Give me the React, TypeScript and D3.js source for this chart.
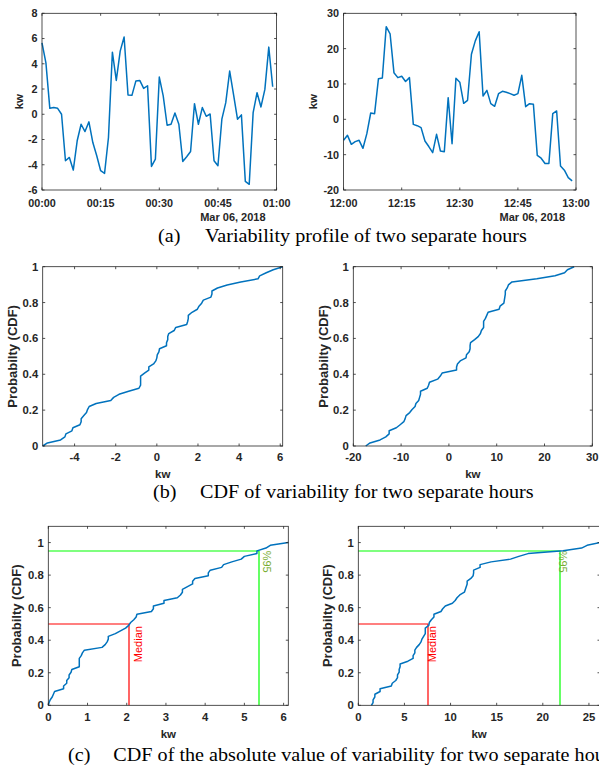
import React from 'react';
import * as d3 from 'd3';

// ---------- data ----------
const hour1Values = [
  5.66, 4.08, 0.47, 0.53, 0.47, 0.0, -3.68, -3.42, -4.42, -2.1,
  -0.79, -1.37, -0.6, -2.24, -3.29, -4.47, -4.68, -1.84, 4.92, 2.68,
  5.0, 6.12, 1.53, 1.5, 2.63, 2.68, 2.05, 2.26, -4.13, -3.55,
  2.95, 1.45, -0.87, -0.79, 0.1, -0.79, -3.74, -3.37, -2.95, 0.84,
  -0.79, 0.53, -0.16, 0.02, -3.68, -4.08, -0.39, 0.92, 3.42, 1.53,
  -0.39, -0.05, -5.32, -5.55, 0.13, 1.71, 0.58, 1.97, 5.32, 2.18,
];
const hour2Values = [
  -5.94, -4.53, -7.08, -6.32, -5.94, -8.2, -4.06, 1.79, 1.6, 11.5,
  11.7, 26.2, 24.2, 13.2, 11.8, 12.2, 10.7, 11.8, -1.42, -1.8,
  -2.36, -6.13, -7.7, -9.43, -4.25, -8.96, -9.15, 6.13, -6.9, 11.6,
  10.5, 4.53, 5.38, 18.4, 22.2, 24.8, 6.6, 8.2, 4.43, 3.68,
  7.26, 7.92, 7.64, 7.26, 6.8, 7.26, 12.45, 3.58, 4.43, 4.25,
  -10.2, -11.0, -12.5, -12.5, 1.6, 2.36, -13.2, -14.4, -16.5, -17.4,
];
const hourStarts = [new Date(2018, 2, 6, 0, 0), new Date(2018, 2, 6, 12, 0)];
const dateLabel = 'Mar 06, 2018';
const profileYTicks1 = [-6, -4, -2, 0, 2, 4, 6, 8];
const profileYTicks2 = [-20, -10, 0, 10, 20, 30];
const profileYDomain1 = [-6, 8];
const profileYDomain2 = [-20, 30];
const cdfYTicks = [0, 0.2, 0.4, 0.6, 0.8, 1];
const cdfXTicks1 = [-4, -2, 0, 2, 4, 6];
const cdfXTicks2 = [-20, -10, 0, 10, 20, 30];
const cdfXDomain2 = [-20, 30];
const absXTicks1 = [0, 1, 2, 3, 4, 5, 6];
const absXTicks2 = [0, 5, 10, 15, 20, 25];
const absYDomain = [0, 1.1];
const medianValues = [2.07, 7.55];
const p95Values = [5.37, 21.86];
const medianLabelPos = [[2.4, 0.265], [8.39, 0.265]];
const p95LabelPos = [[5.47, 0.95], [21.75, 0.95]];
const captionTags = ['(a)', '(b)', '(c)'];
const captionTexts = [
  'Variability profile of two separate hours',
  'CDF of variability for two separate hours',
  'CDF of the absolute value of variability for two separate hours',
];

// ---------- styles ----------
const AXIS = '#262626';
const BLUE = '#0072BD';
const SANS = '"Liberation Sans", Arial, Helvetica, sans-serif';
const SERIF = '"Liberation Serif", "Times New Roman", serif';
const TICK = 2.5;

type Box = { x0: number; x1: number; y0: number; y1: number };

function Frame({ box, xPos, xText, yPos, yText, xTextY, fs }: {
  box: Box; xPos: number[]; xText: string[]; yPos: number[]; yText: string[]; xTextY: number; fs: number;
}) {
  const { x0, x1, y0, y1 } = box;
  return (
    <g>
      {xPos.map((px, i) => (
        <g key={'x' + i}>
          <line x1={px} x2={px} y1={y1} y2={y1 - TICK} stroke={AXIS} strokeWidth={0.8} />
          <line x1={px} x2={px} y1={y0} y2={y0 + TICK} stroke={AXIS} strokeWidth={0.8} />
          <text x={px} y={xTextY} textAnchor="middle" fontSize={fs} fontWeight="bold" fill={AXIS} fontFamily={SANS}>{xText[i]}</text>
        </g>
      ))}
      {yPos.map((py, i) => (
        <g key={'y' + i}>
          <line x1={x0} x2={x0 + TICK} y1={py} y2={py} stroke={AXIS} strokeWidth={0.8} />
          <line x1={x1} x2={x1 - TICK} y1={py} y2={py} stroke={AXIS} strokeWidth={0.8} />
          <text x={x0 - 4.5} y={py} dy="0.36em" textAnchor="end" fontSize={fs} fontWeight="bold" fill={AXIS} fontFamily={SANS}>{yText[i]}</text>
        </g>
      ))}
      <rect x={x0} y={y0} width={x1 - x0} height={y1 - y0} fill="none" stroke={AXIS} strokeWidth={0.8} />
    </g>
  );
}

function YLabel({ x, y, text, fs }: { x: number; y: number; text: string; fs: number }) {
  return (
    <text transform={`translate(${x},${y}) rotate(-90)`} textAnchor="middle" fontSize={fs} fontWeight="bold" fill={AXIS} fontFamily={SANS}>{text}</text>
  );
}

function ProfilePanel({ box, values, start, yDomain, yTicks, ylabelX }: {
  box: Box; values: number[]; start: Date; yDomain: number[]; yTicks: number[]; ylabelX: number;
}) {
  const end = d3.timeMinute.offset(start, 60);
  const xs = d3.scaleTime().domain([start, end]).range([box.x0, box.x1]);
  const ys = d3.scaleLinear().domain(yDomain).range([box.y1, box.y0]);
  const xTickDates = d3.timeMinute.every(15)!.range(start, d3.timeMinute.offset(end, 1));
  const fmt = d3.timeFormat('%H:%M');
  const line = d3.line<number>()
    .x((_, i) => xs(d3.timeMinute.offset(start, i)))
    .y((v) => ys(v));
  return (
    <g>
      <path d={line(values) || ''} fill="none" stroke={BLUE} strokeWidth={1.5} strokeLinejoin="round" />
      <Frame box={box} xPos={xTickDates.map((d) => xs(d))} xText={xTickDates.map(fmt)}
        yPos={yTicks.map((v) => ys(v))} yText={yTicks.map(String)} xTextY={207} fs={10.8} />
      <text x={box.x1 - 11} y={220.8} textAnchor="end" fontSize={11} fontWeight="bold" fill={AXIS} fontFamily={SANS}>{dateLabel}</text>
      <YLabel x={ylabelX} y={(box.y0 + box.y1) / 2} text="kw" fs={11.5} />
    </g>
  );
}

function cdfPoints(values: number[]): [number, number][] {
  const sorted = d3.sort(values);
  const n = sorted.length;
  return sorted.map((v, i) => [v, i / (n - 1)] as [number, number]);
}

function CdfPanel({ box, values, xDomain, xTicks, yDomain, ylabelX, tickY, kwY, extra }: {
  box: Box; values: number[]; xDomain: number[]; xTicks: number[]; yDomain: number[];
  ylabelX: number; tickY: number; kwY: number;
  extra?: (xs: d3.ScaleLinear<number, number>, ys: d3.ScaleLinear<number, number>) => React.ReactNode;
}) {
  const xs = d3.scaleLinear().domain(xDomain).range([box.x0, box.x1]);
  const ys = d3.scaleLinear().domain(yDomain).range([box.y1, box.y0]);
  const line = d3.line<[number, number]>().x((d) => xs(d[0])).y((d) => ys(d[1]));
  return (
    <g>
      {extra ? extra(xs, ys) : null}
      <path d={line(cdfPoints(values)) || ''} fill="none" stroke={BLUE} strokeWidth={1.5} strokeLinejoin="round" />
      <Frame box={box} xPos={xTicks.map((v) => xs(v))} xText={xTicks.map(String)}
        yPos={cdfYTicks.map((v) => ys(v))} yText={cdfYTicks.map(String)} xTextY={tickY} fs={11.3} />
      <text x={(box.x0 + box.x1) / 2} y={kwY} textAnchor="middle" fontSize={11.5} fontWeight="bold" fill={AXIS} fontFamily={SANS}>kw</text>
      <YLabel x={ylabelX} y={(box.y0 + box.y1) / 2} text="Probabilty (CDF)" fs={13} />
    </g>
  );
}

function markers(idx: number) {
  return (xs: d3.ScaleLinear<number, number>, ys: d3.ScaleLinear<number, number>) => {
    const x0 = xs.range()[0];
    const y0 = ys.range()[0];
    const mx = Math.round(xs(medianValues[idx]));
    const px = Math.round(xs(p95Values[idx]));
    const my = Math.round(ys(0.5));
    const py = Math.round(ys(0.95));
    const ml = medianLabelPos[idx];
    const pl = p95LabelPos[idx];
    return (
      <g>
        <polyline points={`${x0},${my} ${mx},${my} ${mx},${y0}`} fill="none" stroke="#FF0000" strokeWidth={1.2} />
        <polyline points={`${x0},${py} ${px},${py} ${px},${y0}`} fill="none" stroke="#00FF00" strokeWidth={1.2} />
        <text transform={`translate(${xs(ml[0])},${ys(ml[1])}) rotate(-90)`} fontSize={11} fill="#FF0000" fontFamily={SANS}>Median</text>
        <text transform={`translate(${xs(pl[0])},${ys(pl[1])}) rotate(90)`} fontSize={11} fill="#77AC30" fontFamily={SANS}>%95</text>
      </g>
    );
  };
}

function Caption({ tag, text, tagX, textX, y }: { tag: string; text: string; tagX: number; textX: number; y: number }) {
  return (
    <g fontFamily={SERIF} fontSize={18.5} fill="#000">
      <text transform={`translate(${tagX},${y}) scale(1.09,1)`}>{tag}</text>
      <text transform={`translate(${textX},${y}) scale(1.09,1)`}>{text}</text>
    </g>
  );
}

export default function App() {
  const abs1 = hour1Values.map(Math.abs);
  const abs2 = hour2Values.map(Math.abs);
  const ext1 = d3.extent(hour1Values) as [number, number];
  return (
    <svg width={599} height={768} style={{ position: 'absolute', left: 0, top: 0, background: '#fff' }}>
      <rect x={0} y={0} width={599} height={768} fill="#fff" />
      <ProfilePanel box={{ x0: 42, x1: 276.6, y0: 13.3, y1: 190 }} values={hour1Values} start={hourStarts[0]}
        yDomain={profileYDomain1} yTicks={profileYTicks1} ylabelX={22.7} />
      <ProfilePanel box={{ x0: 343.6, x1: 576, y0: 13.3, y1: 190 }} values={hour2Values} start={hourStarts[1]}
        yDomain={profileYDomain2} yTicks={profileYTicks2} ylabelX={317.3} />
      <Caption tag={captionTags[0]} text={captionTexts[0]} tagX={158} textX={205} y={241.5} />

      <CdfPanel box={{ x0: 42.7, x1: 282.7, y0: 266.7, y1: 446 }} values={hour1Values} xDomain={ext1}
        xTicks={cdfXTicks1} yDomain={[0, 1]} ylabelX={16.5} tickY={461.3} kwY={478} />
      <CdfPanel box={{ x0: 353.3, x1: 592.3, y0: 266.7, y1: 446 }} values={hour2Values} xDomain={cdfXDomain2}
        xTicks={cdfXTicks2} yDomain={[0, 1]} ylabelX={327.5} tickY={461.3} kwY={478} />
      <Caption tag={captionTags[1]} text={captionTexts[1]} tagX={153} textX={200} y={497.5} />

      <CdfPanel box={{ x0: 48.3, x1: 288.3, y0: 526.3, y1: 705.3 }} values={abs1} xDomain={[0, d3.max(abs1)!]}
        xTicks={absXTicks1} yDomain={absYDomain} ylabelX={21} tickY={721} kwY={738.3} extra={markers(0)} />
      <CdfPanel box={{ x0: 358.3, x1: 600, y0: 526.3, y1: 705.3 }} values={abs2} xDomain={[0, d3.max(abs2)!]}
        xTicks={absXTicks2} yDomain={absYDomain} ylabelX={332} tickY={721} kwY={738.3} extra={markers(1)} />
      <Caption tag={captionTags[2]} text={captionTexts[2]} tagX={68} textX={113.3} y={760.5} />
    </svg>
  );
}
